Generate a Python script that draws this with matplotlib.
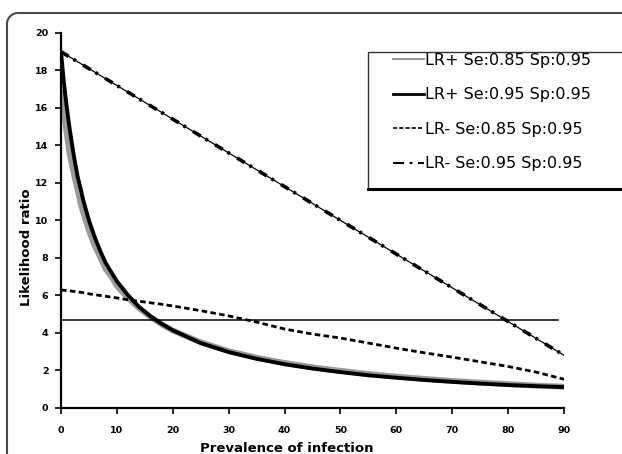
import matplotlib
matplotlib.use("Agg")
import numpy as np
import matplotlib.pyplot as plt
from matplotlib.lines import Line2D
from matplotlib.patches import Rectangle

plt.rcParams['font.family'] = 'DejaVu Sans'
plt.rcParams['lines.scale_dashes'] = False

# prevalence of infection (%)
prevalence = [0, 0.5, 1, 1.5, 2, 2.5, 3, 3.5, 4, 5, 6, 7, 8, 9, 10, 12, 14, 16,
              18, 20, 25, 30, 35, 40, 45, 50, 55, 60, 65, 70, 75, 80, 85, 90]

lr_pos_85 = [17.0, 15.75, 14.7, 13.6, 12.9, 12.2, 11.6, 10.9, 10.4, 9.45, 8.66,
             8.05, 7.4, 7.0, 6.5, 5.85, 5.3, 4.85, 4.45, 4.12, 3.49, 3.02, 2.67,
             2.39, 2.16, 1.97, 1.8, 1.66, 1.54, 1.43, 1.34, 1.26, 1.18, 1.12]
lr_pos_95 = [19.0, 17.4, 16.1, 15.0, 14.0, 13.1, 12.3, 11.7, 11.05, 10.0, 9.13,
             8.38, 7.72, 7.23, 6.75, 6.0, 5.37, 4.88, 4.48, 4.13, 3.45, 2.97,
             2.61, 2.32, 2.09, 1.9, 1.73, 1.6, 1.48, 1.38, 1.29, 1.21, 1.15, 1.1]
lr_neg_85 = [6.28, 6.27, 6.25, 6.24, 6.22, 6.2, 6.18, 6.16, 6.14, 6.08, 6.03,
             5.99, 5.95, 5.9, 5.86, 5.76, 5.68, 5.6, 5.52, 5.43, 5.18, 4.9,
             4.57, 4.2, 3.93, 3.72, 3.45, 3.18, 2.93, 2.7, 2.45, 2.2, 1.9, 1.52]
lr_neg_95_x = [0, 10, 20, 30, 40, 50, 60, 70, 80, 90]
lr_neg_95 = [19.0, 17.2, 15.4, 13.6, 11.8, 10.0, 8.2, 6.4, 4.6, 2.8]

ref_level = 4.68
ref_x = [0, 89]

labels = ["LR+ Se:0.85 Sp:0.95", "LR+ Se:0.95 Sp:0.95",
          "LR- Se:0.85 Sp:0.95", "LR- Se:0.95 Sp:0.95"]

W, H = 622, 454
fig = plt.figure(figsize=(W / 100, H / 100), dpi=100)

# outer frame: left and top edges with a rounded corner, in pixels
r = 11
th = np.linspace(np.pi, np.pi / 2, 20)
fx = np.concatenate([[7], 7 + r + r * np.cos(th), [W + 5]])
fy = np.concatenate([[H + 5], 13 + r - r * np.sin(th), [13]])
fig.lines.append(Line2D(fx / W, 1 - fy / H, transform=fig.transFigure,
                        color="#4a4a4a", lw=1.5))

ax = fig.add_axes([61 / W, 1 - 407.7 / H, (564 - 61) / W, (407.7 - 33) / H])

ax.plot(prevalence, lr_pos_85, color="#9a9a9a", lw=4.2, solid_capstyle="butt")
ax.plot(prevalence, lr_pos_95, color="black", lw=2.8, solid_capstyle="butt")
ax.plot(prevalence, lr_neg_85, color="black", lw=2.0, dashes=(4, 2.4))
ax.plot(lr_neg_95_x, lr_neg_95, color="black", lw=0.9)
ax.plot(lr_neg_95_x, lr_neg_95, color="black", lw=2.6, dashes=(6.5, 4, 2, 6))
ax.plot(ref_x, [ref_level, ref_level], color="black", lw=1.1)

ax.set_xlim(0, 90)
ax.set_ylim(0, 20)
ax.set_xticks(range(0, 91, 10))
ax.set_yticks(range(0, 21, 2))
ax.spines['top'].set_visible(False)
ax.spines['right'].set_visible(False)
for s in ['left', 'bottom']:
    ax.spines[s].set_linewidth(1.6)
ax.tick_params(direction="out", length=4, width=1.2, labelsize=6.8, pad=5)
for t in ax.get_xticklabels() + ax.get_yticklabels():
    t.set_fontweight("heavy")
ax.tick_params(axis="x", pad=9)

fig.text(27 / W, 1 - 247 / H, "Likelihood ratio", rotation=90, ha="center",
         va="center", fontsize=9.5, fontweight="heavy")
fig.text(287 / W, 1 - 448 / H, "Prevalence of infection", ha="center",
         va="center", fontsize=9.5, fontweight="heavy")

# legend box (right edge runs off the figure)
fig.patches.append(Rectangle((368 / W, 1 - 189 / H), 0.5, (189 - 52) / H,
                             transform=fig.transFigure, fill=False,
                             edgecolor="#333333", lw=1.0))
fig.lines.append(Line2D([368 / W, 1.0], [1 - 189 / H, 1 - 189 / H],
                        transform=fig.transFigure, color="black", lw=2.2))

handles = [Line2D([], [], color="#9a9a9a", lw=1.5),
           Line2D([], [], color="black", lw=2.0),
           Line2D([], [], color="black", lw=1.2, dashes=(3, 1.5)),
           Line2D([], [], color="black", lw=1.5, dashes=(8, 4, 2, 4))]
fig.legend(handles, labels, loc="upper left",
           bbox_to_anchor=(393 / W, 1 - 53 / H), frameon=False,
           fontsize=11.5, handlelength=1.95, handletextpad=0.05,
           labelspacing=1.22, borderpad=0, borderaxespad=0)

fig.savefig("out.png", dpi=100)
